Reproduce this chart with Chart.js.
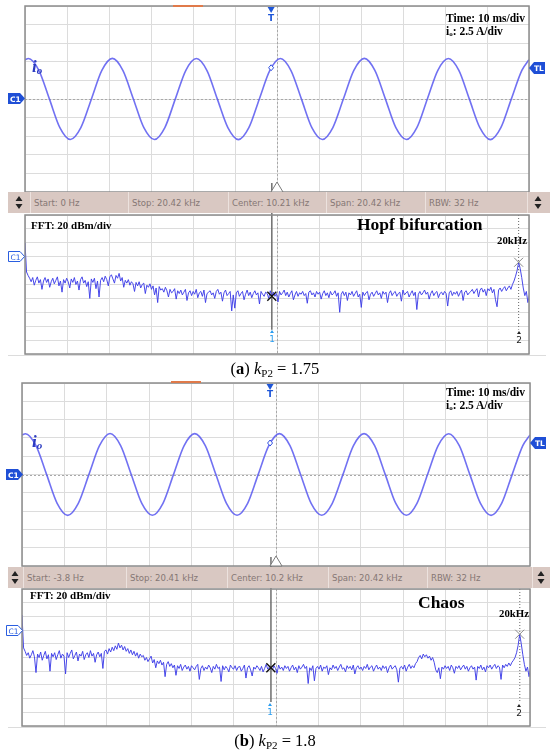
<!DOCTYPE html>
<html>
<head>
<meta charset="utf-8">
<title>io waveform and FFT</title>
<script src="https://cdn.jsdelivr.net/npm/chart.js"></script>
<style>
    body { margin: 0; background: #fff; width: 550px; height: 756px; position: relative; overflow: hidden; }
    canvas { position: absolute; left: 0; }
    .t { position: absolute; line-height: 1; white-space: nowrap; font-family: "Liberation Serif", "Times New Roman", serif; color: #000; }
    .b { font-weight: bold; }
    .bar { position: absolute; left: 8px; width: 542px; height: 21px; background: #d9c8c2; z-index: 5; }
    .seg { position: absolute; top: 0; height: 21px; border-left: 1px solid #ece2de; font-family: "Liberation Sans Narrow", "DejaVu Sans Condensed", sans-serif; font-stretch: condensed; font-size: 9.5px; line-height: 21px; color: #857774; padding-left: 3px; white-space: nowrap; }
    .arr { position: absolute; top: 4px; }
    .hl { position: absolute; left: 8px; width: 538px; height: 1px; background: #dcdcdc; }
    .orange { position: absolute; width: 30px; height: 2px; background: #e07a4a; z-index: 6; }
    svg { position: absolute; z-index: 6; overflow: visible; }
</style>
</head>
<body>
<canvas id="timeA" width="550" height="200" style="top:0"></canvas>
<canvas id="fftA" width="550" height="180" style="top:180px"></canvas>
<canvas id="timeB" width="550" height="196" style="top:376px"></canvas>
<canvas id="fftB" width="550" height="180" style="top:552px"></canvas>

<div class="hl" style="top:355px"></div>
<div class="hl" style="top:727px"></div>
<div class="orange" style="left:173px;top:5px"></div>
<div class="orange" style="left:171px;top:381px"></div>

<!-- scope labels -->
<div class="t b" style="left:446px;top:13px;font-size:11.5px">Time: 10 ms/div</div>
<div class="t b" style="left:446px;top:26.4px;font-size:11.5px">i<span style="font-size:7px;vertical-align:-1px">o</span>: 2.5 A/div</div>
<div class="t b" style="left:446px;top:387px;font-size:11.5px">Time: 10 ms/div</div>
<div class="t b" style="left:446px;top:399.7px;font-size:11.5px">i<span style="font-size:7px;vertical-align:-1px">o</span>: 2.5 A/div</div>

<div class="t b" style="left:32px;top:57.8px;font-size:17px;font-style:italic;color:#2b3bc0">i<span style="font-size:11px;vertical-align:-2px">o</span></div>
<div class="t b" style="left:32px;top:432.8px;font-size:17px;font-style:italic;color:#2b3bc0">i<span style="font-size:11px;vertical-align:-2px">o</span></div>

<div class="t b" style="left:31px;top:219.8px;font-size:11px">FFT: 20 dBm/div</div>
<div class="t b" style="left:30px;top:589.8px;font-size:11px">FFT: 20 dBm/div</div>
<div class="t b" style="left:357px;top:216.3px;font-size:17.5px">Hopf bifurcation</div>
<div class="t b" style="left:418px;top:594.3px;font-size:17.5px">Chaos</div>
<div class="t b" style="left:497px;top:235px;font-size:10.8px">20kHz</div>
<div class="t b" style="left:499px;top:608px;font-size:10.8px">20kHz</div>

<div class="t" style="left:0;width:550px;text-align:center;top:361px;font-size:16.5px">(<b>a</b>) <i>k</i><span style="font-size:11px;vertical-align:-3px">P2</span> = 1.75</div>
<div class="t" style="left:0;width:550px;text-align:center;top:733px;font-size:16.5px">(<b>b</b>) <i>k</i><span style="font-size:11px;vertical-align:-3px">P2</span> = 1.8</div>

<!-- channel tags -->
<svg style="left:8px;top:93px" width="17" height="11"><path d="M0 0H12L17 5.5L12 11H0Z" fill="#1f4fd6"/><text x="2" y="8.7" font-family="DejaVu Sans" font-size="7.5" font-weight="bold" fill="#fff">C1</text></svg>
<svg style="left:529px;top:62px" width="16" height="12"><path d="M16 0H5L0 6L5 12H16Z" fill="#1f4fd6"/><text x="5" y="9.2" font-family="DejaVu Sans" font-size="7.5" font-weight="bold" fill="#fff">TL</text></svg>
<svg style="left:6px;top:469px" width="17" height="11"><path d="M0 0H12L17 5.5L12 11H0Z" fill="#1f4fd6"/><text x="2" y="8.7" font-family="DejaVu Sans" font-size="7.5" font-weight="bold" fill="#fff">C1</text></svg>
<svg style="left:530px;top:437px" width="16" height="12"><path d="M16 0H5L0 6L5 12H16Z" fill="#1f4fd6"/><text x="5" y="9.2" font-family="DejaVu Sans" font-size="7.5" font-weight="bold" fill="#fff">TL</text></svg>
<svg style="left:8px;top:251px" width="17" height="11"><path d="M0.5 0.5H12L16.5 5.5L12 10.5H0.5Z" fill="#fff" stroke="#2a5ee0"/><text x="2.5" y="8.5" font-family="DejaVu Sans" font-size="7.5" fill="#2a5ee0">C1</text></svg>
<svg style="left:6px;top:625px" width="17" height="11"><path d="M0.5 0.5H12L16.5 5.5L12 10.5H0.5Z" fill="#fff" stroke="#2a5ee0"/><text x="2.5" y="8.5" font-family="DejaVu Sans" font-size="7.5" fill="#2a5ee0">C1</text></svg>

<!-- trigger letters -->
<svg style="left:267px;top:12px" width="8" height="10"><text x="4" y="9" text-anchor="middle" font-family="DejaVu Sans" font-size="9" font-weight="bold" fill="#1e56d8">T</text></svg>
<svg style="left:266px;top:388px" width="8" height="10"><text x="4" y="9" text-anchor="middle" font-family="DejaVu Sans" font-size="9" font-weight="bold" fill="#1e56d8">T</text></svg>

<!-- cursor markers -->
<svg style="left:268px;top:330px" width="8" height="13"><path d="M4 0L6 3H2Z" fill="#2a9df0"/><text x="4" y="12" text-anchor="middle" font-family="DejaVu Sans" font-size="9" fill="#2a9df0">1</text></svg>
<svg style="left:515px;top:331px" width="8" height="13"><path d="M4 0L6 3H2Z" fill="#222"/><text x="4" y="12" text-anchor="middle" font-family="DejaVu Sans" font-size="9" fill="#222">2</text></svg>
<svg style="left:266px;top:703px" width="8" height="13"><path d="M4 0L6 3H2Z" fill="#2a9df0"/><text x="4" y="12" text-anchor="middle" font-family="DejaVu Sans" font-size="9" fill="#2a9df0">1</text></svg>
<svg style="left:515px;top:704px" width="8" height="13"><path d="M4 0L6 3H2Z" fill="#222"/><text x="4" y="12" text-anchor="middle" font-family="DejaVu Sans" font-size="9" fill="#222">2</text></svg>

<div class="bar" id="barA" style="top:192px"></div>
<div class="bar" id="barB" style="top:567px"></div>

<script>
// sample instants of the time traces (ms), read at peaks / zero crossings
const sampleTimes = [0, 0.8, 3.3, 5.8, 8.3, 10.8, 13.3, 15.8, 18.3, 20.8, 23.3, 25.8, 28.3, 30.8, 33.3, 35.8, 38.3,
    40.8, 43.3, 45.8, 48.3, 50.8, 53.3, 55.8, 58.3, 60.8, 63.3, 65.8, 68.3, 70.8, 73.3, 75.8, 78.3,
    80.8, 83.3, 85.8, 88.3, 90.8, 93.3, 95.8, 98.3, 100.8, 103.3, 105.8, 108.3, 110.8, 113.3, 115.8, 118.3, 120];

// io (A), kp2 = 1.75
const currentA = [5.28, 5.45, 3.86, 0.02, -3.84, -5.44, -3.85, -0.03, 3.84, 5.46, 3.85, 0.01, -3.86, -5.45, -3.84, 0.02, 3.86,
    5.44, 3.85, -0.02, -3.85, -5.46, -3.86, 0.01, 3.84, 5.45, 3.86, 0.02, -3.85, -5.44, -3.84, -0.01, 3.85,
    5.46, 3.84, 0.02, -3.86, -5.45, -3.85, 0.01, 3.86, 5.44, 3.84, -0.02, -3.85, -5.46, -3.86, 0.02, 3.85, 5.28];

// io (A), kp2 = 1.8
const currentB = [5.40, 5.57, 3.94, 0.02, -3.93, -5.58, -3.95, -0.02, 3.93, 5.60, 3.95, 0.01, -3.94, -5.57, -3.93, 0.02, 3.95,
    5.58, 3.94, -0.01, -3.95, -5.57, -3.94, 0.02, 3.93, 5.59, 3.95, 0.01, -3.94, -5.56, -3.93, -0.02, 3.94,
    5.58, 3.93, 0.02, -3.95, -5.57, -3.94, 0.01, 3.95, 5.57, 3.93, -0.02, -3.94, -5.58, -3.95, 0.02, 3.94, 5.40];

// trigger position (ms) and level (A)
const trigA = { t: 58.6, level: 4.2 };
const trigB = { t: 58.6, level: 4.3 };

// FFT bins, 0.0625 kHz apart
const fftStep = 0.0625;
const spanA = [0, 20.42];
const spanB = [-0.0038, 20.41];
const cursorFreq = [10.0, 20.0];   // marker 1, marker 2 (kHz)

// spectrum (dBm), kp2 = 1.75
const fftA = [20, -22, -27, -31, -36, -30, -41, -34, -29, -38,
    -33, -47, -35, -30, -37, -32, -44, -36, -31, -39,
    -34, -29, -42, -35, -51, -33, -38, -31, -36, -45,
    -32, -37, -30, -40, -35, -48, -33, -29, -38, -34,
    -43, -36, -60, -32, -37, -31, -46, -35, -58, -34,
    -30, -36, -28, -33, -42, -29, -26, -32, -38, -27,
    -31, -24, -35, -30, -44, -34, -38, -33, -41, -36,
    -39, -50, -37, -42, -36, -45, -40, -38, -53, -41,
    -44, -39, -47, -42, -55, -45, -66, -43, -48, -46,
    -51, -44, -49, -58, -47, -52, -50, -46, -61, -49,
    -53, -48, -55, -51, -47, -63, -52, -49, -56, -50,
    -54, -47, -59, -52, -50, -57, -48, -66, -53, -51,
    -49, -55, -52, -60, -50, -47, -54, -51, -64, -52,
    -48, -56, -53, -50, -78, -55, -74, -52, -49, -57,
    -53, -50, -62, -54, -48, -56, -51, -59, -53, -49,
    -55, -52, -68, -50, -54, -57, -51, -53, -60, -49,
    -57, -51, -57, -53, -65, -50, -55, -52, -48, -56,
    -51, -58, -53, -49, -62, -55, -50, -57, -52, -54,
    -50, -56, -53, -67, -51, -49, -55, -52, -58, -50,
    -54, -51, -61, -53, -49, -56, -52, -59, -50, -55,
    -53, -49, -57, -52, -80, -54, -50, -56, -51, -63,
    -52, -55, -50, -57, -53, -49, -58, -54, -73, -51,
    -56, -52, -50, -62, -54, -51, -57, -53, -49, -55,
    -52, -60, -50, -54, -51, -66, -53, -49, -56, -52,
    -50, -57, -53, -51, -64, -48, -55, -52, -50, -58,
    -53, -49, -56, -51, -76, -54, -50, -55, -52, -48,
    -54, -51, -61, -53, -49, -56, -52, -50, -59, -53,
    -51, -55, -50, -53, -71, -52, -49, -56, -51, -54,
    -50, -57, -52, -48, -63, -51, -49, -55, -52, -50,
    -47, -53, -49, -46, -58, -48, -45, -51, -47, -56,
    -46, -49, -44, -52, -47, -62, -72, -48, -45, -50,
    -46, -43, -49, -45, -42, -47, -40, -35, -28, -20,
    -8, -17, -30, -45, -56, -50, -66, -55, -58];

// spectrum (dBm), kp2 = 1.8
const fftB = [22, -26, -31, -37, -33, -41, -36, -30, -39, -62,
    -35, -40, -32, -44, -37, -31, -42, -36, -60, -34,
    -39, -33, -43, -36, -30, -41, -35, -38, -64, -33,
    -40, -34, -29, -42, -37, -32, -45, -35, -38, -31,
    -43, -36, -33, -40, -30, -38, -34, -47, -36, -32,
    -39, -34, -56, -31, -29, -35, -27, -32, -25, -30,
    -23, -28, -19, -26, -22, -29, -24, -31, -27, -34,
    -29, -36, -31, -38, -33, -41, -35, -39, -37, -44,
    -40, -46, -42, -38, -48, -43, -55, -45, -49, -44,
    -51, -47, -68, -50, -46, -53, -49, -55, -51, -66,
    -52, -56, -50, -59, -54, -51, -57, -53, -60, -52,
    -55, -58, -53, -50, -72, -56, -52, -59, -54, -57,
    -51, -55, -62, -53, -57, -50, -56, -54, -75, -52,
    -58, -53, -56, -61, -51, -55, -57, -52, -59, -54,
    -53, -60, -56, -51, -70, -55, -52, -58, -67, -54,
    -57, -52, -55, -59, -53, -61, -56, -50, -57, -54,
    -55, -58, -52, -56, -63, -51, -57, -54, -59, -52,
    -56, -53, -60, -55, -51, -58, -54, -62, -52, -57,
    -54, -50, -56, -53, -78, -55, -59, -52, -74, -56,
    -53, -57, -51, -60, -54, -56, -52, -65, -55, -58,
    -51, -56, -53, -59, -54, -50, -57, -55, -61, -52,
    -56, -53, -58, -51, -64, -55, -52, -57, -54, -59,
    -53, -56, -50, -58, -54, -52, -60, -55, -51, -57,
    -54, -59, -52, -56, -53, -62, -55, -51, -57, -54,
    -52, -58, -76, -55, -53, -57, -51, -60, -54, -50,
    -56, -52, -55, -49, -46, -40, -37, -42, -35, -39,
    -36, -41, -38, -44, -40, -47, -58, -62, -55, -71,
    -54, -57, -52, -56, -53, -59, -51, -55, -63, -53,
    -56, -52, -58, -54, -51, -57, -53, -60, -55, -52,
    -57, -54, -73, -53, -56, -51, -58, -54, -61, -52,
    -55, -51, -57, -53, -50, -56, -52, -54, -72, -51,
    -55, -50, -53, -48, -52, -47, -44, -40, -33, -22,
    -6, -20, -36, -50, -60, -54, -68, -56, -58];

const statusA = ['Start: 0 Hz', 'Stop: 20.42 kHz', 'Center: 10.21 kHz', 'Span: 20.42 kHz', 'RBW: 32 Hz'];
const statusB = ['Start: -3.8 Hz', 'Stop: 20.41 kHz', 'Center: 10.2 kHz', 'Span: 20.42 kHz', 'RBW: 32 Hz'];

const gridColor = '#dcdcdc';
const frameColor = '#8c8c8c';

// status bars
function buildBar(id, labels, seps, arrows) {
    const bar = document.getElementById(id);
    seps.forEach((s, i) => {
        const d = document.createElement('div');
        d.className = 'seg';
        d.style.left = (s - 8) + 'px';
        d.style.width = ((seps[i + 1] || 550) - s - 4) + 'px';
        d.textContent = labels[i] || '';
        bar.appendChild(d);
    });
    arrows.forEach(ax => {
        const svg = document.createElementNS('http://www.w3.org/2000/svg', 'svg');
        svg.setAttribute('width', '8'); svg.setAttribute('height', '13');
        svg.setAttribute('class', 'arr');
        svg.style.left = (ax - 8 - 4) + 'px';
        svg.innerHTML = '<path d="M4 0L7.5 5H0.5Z M0.5 8H7.5L4 13Z" fill="#222"/>';
        bar.appendChild(svg);
    });
}
buildBar('barA', statusA, [30, 128, 228, 326, 425, 527], [19, 538]);
buildBar('barB', statusB, [23, 126, 227, 328, 427, 532], [15, 541]);

const timeDecor = {
    id: 'timeDecor',
    beforeDatasetsDraw(chart, args, o) {
        const { ctx, chartArea: a, scales: { x, y } } = chart;
        const cx = Math.round(x.getPixelForValue(60)) + 0.5;
        const cy = Math.round(y.getPixelForValue(0)) + 0.5;
        ctx.save();
        ctx.strokeStyle = '#a8a8a8';
        ctx.lineWidth = 1;
        ctx.setLineDash([2, 2]);
        ctx.beginPath();
        ctx.moveTo(cx, a.top); ctx.lineTo(cx, a.bottom);
        ctx.moveTo(a.left, cy); ctx.lineTo(a.right, cy);
        ctx.stroke();
        ctx.restore();
    },
    afterDraw(chart, args, o) {
        const { ctx, chartArea: a, scales: { x, y } } = chart;
        ctx.save();
        ctx.strokeStyle = frameColor;
        ctx.lineWidth = 1.5;
        ctx.strokeRect(a.left, a.top, a.right - a.left, a.bottom - a.top);
        // trigger arrow and point
        const tx = x.getPixelForValue(o.t);
        ctx.fillStyle = '#1e56d8';
        ctx.beginPath();
        ctx.moveTo(tx - 3.5, a.top + 1); ctx.lineTo(tx + 3.5, a.top + 1); ctx.lineTo(tx, a.top + 7);
        ctx.fill();
        const ty = y.getPixelForValue(o.level);
        ctx.fillStyle = '#fff';
        ctx.strokeStyle = '#3050e0';
        ctx.lineWidth = 1;
        ctx.beginPath();
        ctx.moveTo(tx, ty - 3); ctx.lineTo(tx + 2.5, ty); ctx.lineTo(tx, ty + 3); ctx.lineTo(tx - 2.5, ty);
        ctx.closePath(); ctx.fill(); ctx.stroke();
        ctx.restore();
    }
};

const fftDecor = {
    id: 'fftDecor',
    beforeDatasetsDraw(chart, args, o) {
        const { ctx, chartArea: a, scales: { x, y } } = chart;
        ctx.save();
        // centre line
        const mx = Math.round(x.getPixelForValue((o.span[0] + o.span[1]) / 2)) + 0.5;
        ctx.strokeStyle = '#a8a8a8';
        ctx.lineWidth = 1;
        ctx.setLineDash([2, 2]);
        ctx.beginPath(); ctx.moveTo(mx, a.top); ctx.lineTo(mx, a.bottom); ctx.stroke();
        // marker 2 (dotted)
        const x2 = x.getPixelForValue(cursorFreq[1]);
        ctx.strokeStyle = '#666';
        ctx.setLineDash([1, 2]);
        ctx.beginPath(); ctx.moveTo(x2, a.top); ctx.lineTo(x2, y.getPixelForValue(-105)); ctx.stroke();
        // marker 1 (solid)
        const x1 = x.getPixelForValue(cursorFreq[0]);
        ctx.setLineDash([]);
        ctx.strokeStyle = '#6e6e6e';
        ctx.lineWidth = 1.5;
        ctx.beginPath(); ctx.moveTo(x1, a.top - 32); ctx.lineTo(x1, y.getPixelForValue(-105)); ctx.stroke();
        ctx.restore();
    },
    afterDatasetsDraw(chart, args, o) {
        const { ctx, scales: { x, y } } = chart;
        const pts = chart.data.datasets[0].data;
        ctx.save();
        cursorFreq.forEach((f, k) => {
            const i = Math.round((f - o.span[0]) / fftStep);
            const px = x.getPixelForValue(pts[i].x), py = y.getPixelForValue(pts[i].y);
            const r = 4.5;
            ctx.strokeStyle = k === 0 ? '#111' : '#8a8a8a';
            ctx.lineWidth = k === 0 ? 1.4 : 1;
            ctx.beginPath();
            ctx.moveTo(px - r, py - r); ctx.lineTo(px + r, py + r);
            ctx.moveTo(px + r, py - r); ctx.lineTo(px - r, py + r);
            ctx.stroke();
        });
        ctx.restore();
    },
    afterDraw(chart, args, o) {
        const { ctx, chartArea: a, scales: { x } } = chart;
        ctx.save();
        ctx.strokeStyle = frameColor;
        ctx.lineWidth = 1.5;
        ctx.strokeRect(a.left, a.top, a.right - a.left, a.bottom - a.top);
        // centre frequency triangle
        const mx = x.getPixelForValue((o.span[0] + o.span[1]) / 2);
        const base = a.top - 23;
        ctx.fillStyle = '#fff';
        ctx.strokeStyle = '#7a7a7a';
        ctx.lineWidth = 1;
        ctx.beginPath();
        ctx.moveTo(mx, base - 10); ctx.lineTo(mx + 6, base); ctx.lineTo(mx - 6, base); ctx.closePath();
        ctx.fill(); ctx.stroke();
        ctx.restore();
    }
};

function gridAxis(extra) {
    return Object.assign({
        type: 'linear',
        ticks: { display: false },
        grid: { color: gridColor, drawTicks: false, lineWidth: 1 },
        border: { display: false }
    }, extra);
}

function timeChart(id, values, trig, pad) {
    return new Chart(document.getElementById(id), {
        type: 'line',
        data: {
            datasets: [{
                data: sampleTimes.map((t, i) => ({ x: t, y: values[i] })),
                borderColor: 'rgba(88, 88, 240, 0.85)',
                borderWidth: 1.6,
                pointRadius: 0,
                cubicInterpolationMode: 'monotone'
            }]
        },
        options: {
            responsive: false,
            animation: false,
            events: [],
            layout: { padding: pad },
            plugins: { legend: { display: false }, tooltip: { enabled: false }, timeDecor: trig },
            scales: {
                x: gridAxis({ min: 0, max: 120, ticks: { display: false, stepSize: 10 } }),
                y: gridAxis({ min: -12.5, max: 12.5, ticks: { display: false, stepSize: 2.5 } })
            }
        },
        plugins: [timeDecor]
    });
}

function fftChart(id, values, span, pad) {
    return new Chart(document.getElementById(id), {
        type: 'line',
        data: {
            datasets: [{
                data: values.map((v, i) => ({ x: span[0] + i * fftStep, y: v })),
                borderColor: 'rgba(62, 62, 232, 0.95)',
                borderWidth: 1,
                pointRadius: 0,
                tension: 0
            }]
        },
        options: {
            responsive: false,
            animation: false,
            events: [],
            layout: { padding: pad },
            plugins: { legend: { display: false }, tooltip: { enabled: false }, fftDecor: { span: span } },
            scales: {
                x: { type: 'linear', min: span[0], max: span[1], display: false },
                xg: gridAxis({ position: 'bottom', min: 0, max: 12, ticks: { display: false, stepSize: 1 } }),
                y: gridAxis({ min: -140, max: 60, ticks: { display: false, stepSize: 20 } })
            }
        },
        plugins: [fftDecor]
    });
}

timeChart('timeA', currentA, trigA, { left: 25, right: 21, top: 6, bottom: 8 });
fftChart('fftA', fftA, spanA, { left: 25, right: 21, top: 35, bottom: 6 });
timeChart('timeB', currentB, trigB, { left: 22, right: 20, top: 7, bottom: 6 });
fftChart('fftB', fftB, spanB, { left: 22, right: 20, top: 37, bottom: 6 });
</script>
</body>
</html>
